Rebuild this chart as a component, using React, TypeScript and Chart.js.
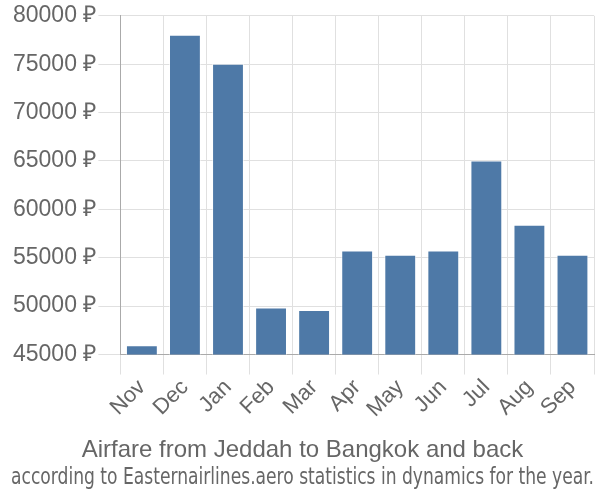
import React, { useEffect, useRef } from "react";
import { Chart, registerables } from "chart.js";

Chart.register(...registerables);

const months = ["Nov", "Dec", "Jan", "Feb", "Mar", "Apr", "May", "Jun", "Jul", "Aug", "Sep"];
const prices = [45960, 78050, 75050, 49870, 49600, 55750, 55310, 55750, 65050, 58400, 55310];
const yMin = 45000;
const yMax = 80000;
const yStep = 5000;
const titleText = "Airfare from Jeddah to Bangkok and back";
const subtitleText = "according to Easternairlines.aero statistics in dynamics for the year.";

export default function App() {
  const ref = useRef<HTMLCanvasElement>(null);
  useEffect(() => {
    if (!ref.current) return;
    const chart = new Chart(ref.current, {
      type: "bar",
      data: {
        labels: months,
        datasets: [
          {
            data: prices,
            backgroundColor: "#4e79a7",
            borderColor: "rgba(255,255,255,0.6)",
            borderWidth: 1,
            barPercentage: 0.74,
            categoryPercentage: 1,
          },
        ],
      },
      options: {
        animation: false,
        responsive: false,
        maintainAspectRatio: false,
        layout: { padding: { top: 4, right: 6, left: 11, bottom: 4 } },
        plugins: {
          legend: { display: false },
          tooltip: { enabled: false },
          // outer (bottom-most) line
          title: {
            display: true,
            text: subtitleText,
            position: "bottom",
            color: "#666",
            font: { family: "'DejaVu Sans Condensed', 'Liberation Sans Narrow', 'Liberation Sans', sans-serif", size: 23, weight: "normal" },
            padding: { top: 0, bottom: 4 },
          },
          // inner line (main title)
          subtitle: {
            display: true,
            text: titleText,
            position: "bottom",
            color: "#666",
            font: { family: "'Liberation Sans', Arial, sans-serif", size: 24, weight: "normal" },
            padding: { top: 13, bottom: 0 },
          },
        },
        scales: {
          x: {
            grid: {
              color: "#e0e0e0",
              lineWidth: 1,
              offset: true,
              tickLength: 20,
              drawTicks: true,
            },
            border: { color: "#aaa", width: 1 },
            ticks: {
              color: "#666",
              font: { family: "'Liberation Sans', Arial, sans-serif", size: 22 },
              minRotation: 45,
              maxRotation: 45,
              padding: 0,
            },
          },
          y: {
            min: yMin,
            max: yMax,
            grid: { color: "#e0e0e0", lineWidth: 1, tickLength: 22 },
            border: { color: "#aaa", width: 1 },
            ticks: {
              stepSize: yStep,
              color: "#666",
              padding: 2,
              font: { family: "'Liberation Sans', Arial, sans-serif", size: 23 },
              callback: (v: any) => `${v} ₽`,
            },
          },
        },
      },
    });
    return () => chart.destroy();
  }, []);
  return (
    <div style={{ position: "fixed", left: 0, top: 0, width: 600, height: 500, background: "#fff" }}>
      <canvas ref={ref} width={600} height={500} style={{ width: 600, height: 500 }} />
    </div>
  );
}
